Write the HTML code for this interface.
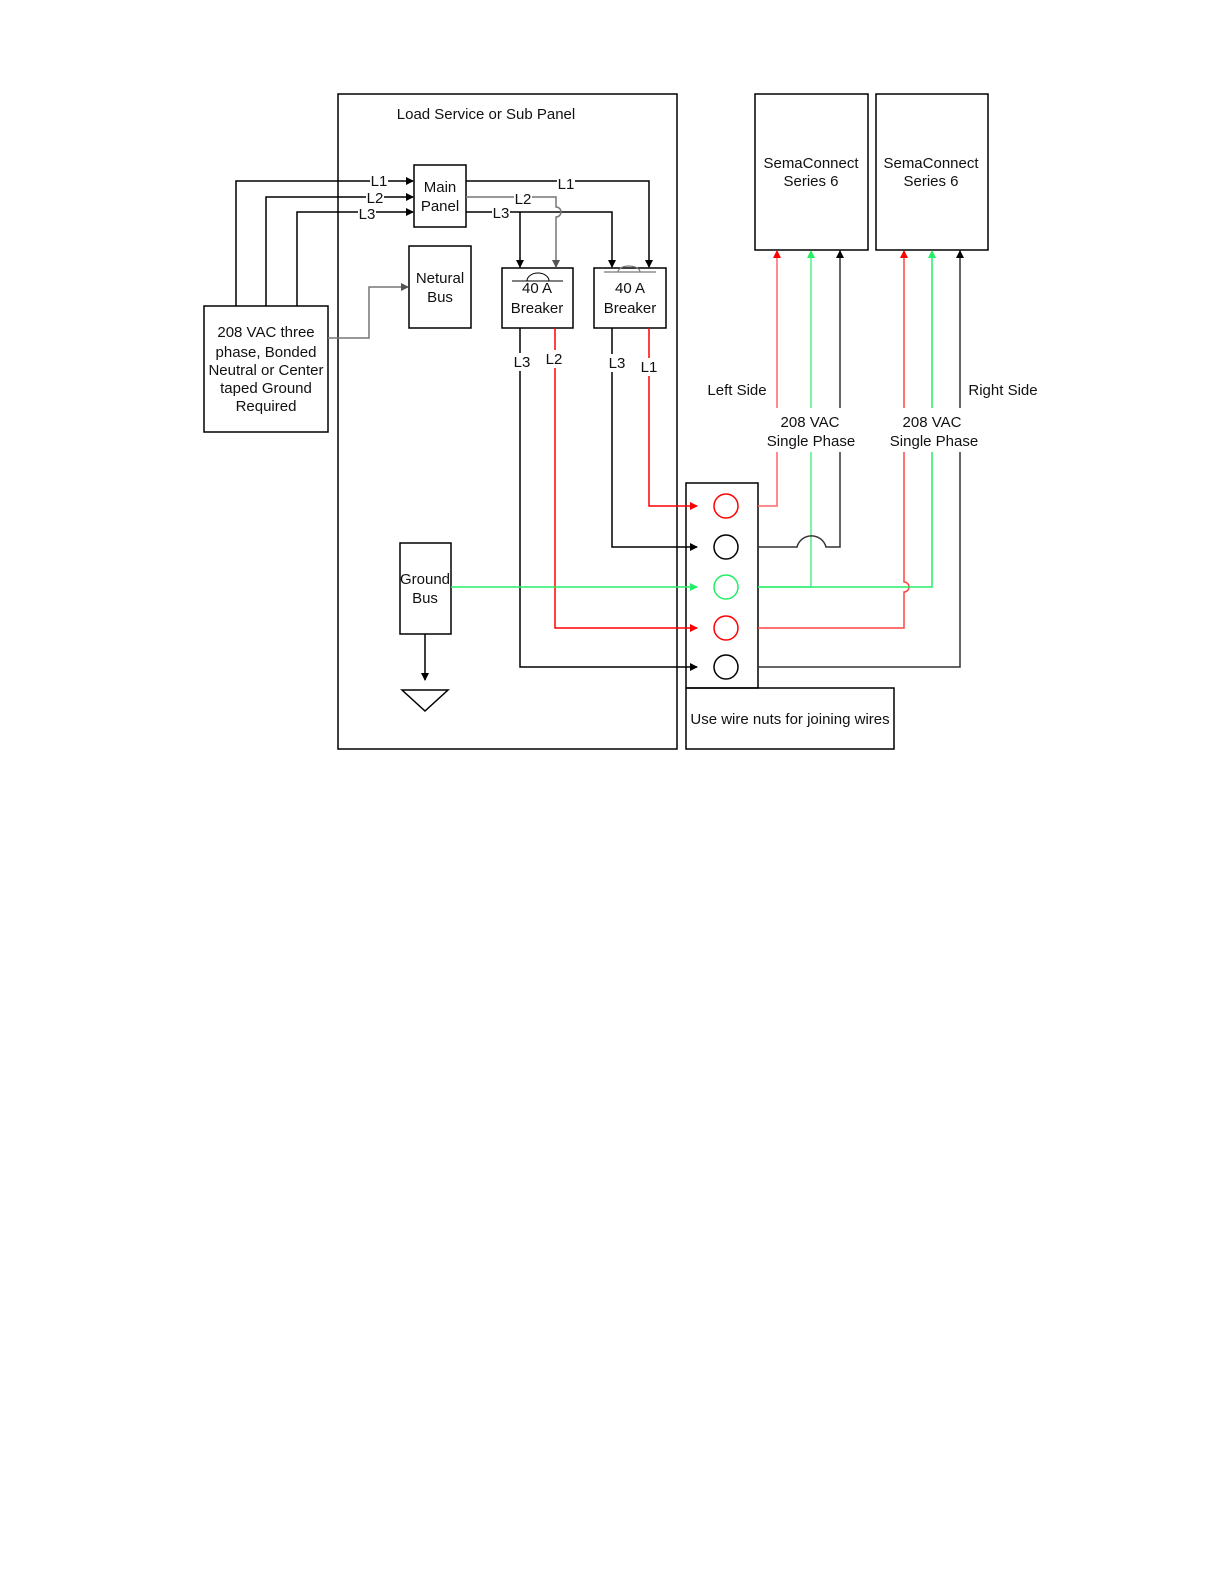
<!DOCTYPE html>
<html><head><style>body{margin:0;background:#fff}svg{display:block}text{font-family:"Liberation Sans",sans-serif;font-size:15px;fill:#111}</style></head><body>
<svg width="1224" height="1584" viewBox="0 0 1224 1584" xmlns="http://www.w3.org/2000/svg">
<defs>
<marker id="ak" markerWidth="8" markerHeight="8" refX="7" refY="4" orient="auto" markerUnits="userSpaceOnUse"><path d="M0,0L8,4L0,8z" fill="#000"/></marker>
<marker id="ar" markerWidth="8" markerHeight="8" refX="7" refY="4" orient="auto" markerUnits="userSpaceOnUse"><path d="M0,0L8,4L0,8z" fill="#f00"/></marker>
<marker id="ag" markerWidth="8" markerHeight="8" refX="7" refY="4" orient="auto" markerUnits="userSpaceOnUse"><path d="M0,0L8,4L0,8z" fill="#2e6"/></marker>
<marker id="agr" markerWidth="8" markerHeight="8" refX="7" refY="4" orient="auto" markerUnits="userSpaceOnUse"><path d="M0,0L8,4L0,8z" fill="#555"/></marker>
</defs>
<g fill="none" stroke="#000" stroke-width="1.5">
<rect x="338" y="94" width="339" height="655"/>
<rect x="414" y="165" width="52" height="62"/>
<rect x="409" y="246" width="62" height="82"/>
<rect x="502" y="268" width="71" height="60"/>
<rect x="594" y="268" width="72" height="60"/>
<rect x="204" y="306" width="124" height="126"/>
<rect x="400" y="543" width="51" height="91"/>
<rect x="686" y="483" width="72" height="205"/>
<rect x="686" y="688" width="208" height="61"/>
<rect x="755" y="94" width="113" height="156"/>
<rect x="876" y="94" width="112" height="156"/>
<path d="M402,690H448L425,711Z"/>
<path d="M425,634V680" marker-end="url(#ak)"/>
<!-- source feeds -->
<path d="M236,306V181H413" marker-end="url(#ak)"/>
<path d="M266,306V197H413" marker-end="url(#ak)"/>
<path d="M297,306V212H413" marker-end="url(#ak)"/>
<path d="M328,338H369V287H408" stroke="#777" marker-end="url(#agr)"/>
<!-- main panel out -->
<path d="M466,181H649V267" marker-end="url(#ak)"/>
<path d="M466,212H612V267" marker-end="url(#ak)"/>
<path d="M520,212V267" marker-end="url(#ak)"/>
<path d="M466,197H556V207A5,5 0 0 1 556,217V267" stroke="#777" marker-end="url(#agr)"/>
<!-- breaker arcs -->
<path d="M512,281H563M527,281A11,8 0 0 1 549,281" stroke-width="1"/>
<path d="M604,272H656M618,272A11,6 0 0 1 640,272" stroke="#777" stroke-width="1.2"/>
<!-- below breakers -->
<path d="M520,328V667H697" marker-end="url(#ak)"/>
<path d="M612,328V547H697" marker-end="url(#ak)"/>
<path d="M555,328V628H697" stroke="#f00" marker-end="url(#ar)"/>
<path d="M649,328V506H697" stroke="#f00" marker-end="url(#ar)"/>
<path d="M451,587H697" stroke="#2e6" marker-end="url(#ag)"/>
<!-- circles -->
<circle cx="726" cy="506" r="12" stroke="#f00"/>
<circle cx="726" cy="547" r="12"/>
<circle cx="726" cy="587" r="12" stroke="#2e6"/>
<circle cx="726" cy="628" r="12" stroke="#f00"/>
<circle cx="726" cy="667" r="12"/>
<!-- to chargers -->
<path d="M758,506H777V251" stroke="#f66" marker-end="url(#ar)"/>
<path d="M758,587H811V251" stroke="#2e6" stroke-width="1.2" marker-end="url(#ag)"/>
<path d="M758,547H797A15,15 0 0 1 826,547H840V251" stroke="#333" marker-end="url(#ak)"/>
<path d="M758,628H904V592A5,5 0 0 0 904,582V251" stroke="#f44" marker-end="url(#ar)"/>
<path d="M758,587H932V251" stroke="#2e6" marker-end="url(#ag)"/>
<path d="M758,667H960V251" stroke="#333" marker-end="url(#ak)"/>
</g>
<g fill="#fff">
<rect x="370" y="173" width="18" height="16"/><rect x="366" y="190" width="18" height="16"/><rect x="358" y="206" width="18" height="16"/>
<rect x="557" y="175" width="18" height="16"/><rect x="514" y="191" width="18" height="16"/><rect x="492" y="205" width="18" height="16"/>
<rect x="512" y="353" width="20" height="18"/><rect x="544" y="350" width="20" height="18"/><rect x="607" y="354" width="20" height="18"/><rect x="639" y="358" width="20" height="18"/>
<rect x="764" y="408" width="96" height="44"/><rect x="886" y="408" width="96" height="44"/>
</g>
<g text-anchor="middle">
<text x="486" y="119">Load Service or Sub Panel</text>
<text x="440" y="192">Main</text><text x="440" y="211">Panel</text>
<text x="440" y="283">Netural</text><text x="440" y="302">Bus</text>
<text x="537" y="293">40 A</text><text x="537" y="313">Breaker</text>
<text x="630" y="293">40 A</text><text x="630" y="313">Breaker</text>
<text x="266" y="337">208 VAC three</text><text x="266" y="357">phase, Bonded</text><text x="266" y="375">Neutral or Center</text><text x="266" y="393">taped Ground</text><text x="266" y="411">Required</text>
<text x="425" y="584">Ground</text><text x="425" y="603">Bus</text>
<text x="379" y="186">L1</text><text x="375" y="203">L2</text><text x="367" y="219">L3</text>
<text x="566" y="189">L1</text><text x="523" y="204">L2</text><text x="501" y="218">L3</text>
<text x="522" y="367">L3</text><text x="554" y="364">L2</text><text x="617" y="368">L3</text><text x="649" y="372">L1</text>
<text x="811" y="168">SemaConnect</text><text x="811" y="186">Series 6</text>
<text x="931" y="168">SemaConnect</text><text x="931" y="186">Series 6</text>
<text x="737" y="395">Left Side</text><text x="1003" y="395">Right Side</text>
<text x="810" y="427">208 VAC</text><text x="811" y="446">Single Phase</text>
<text x="932" y="427">208 VAC</text><text x="934" y="446">Single Phase</text>
<text x="790" y="724">Use wire nuts for joining wires</text>
</g>
</svg>
</body></html>
